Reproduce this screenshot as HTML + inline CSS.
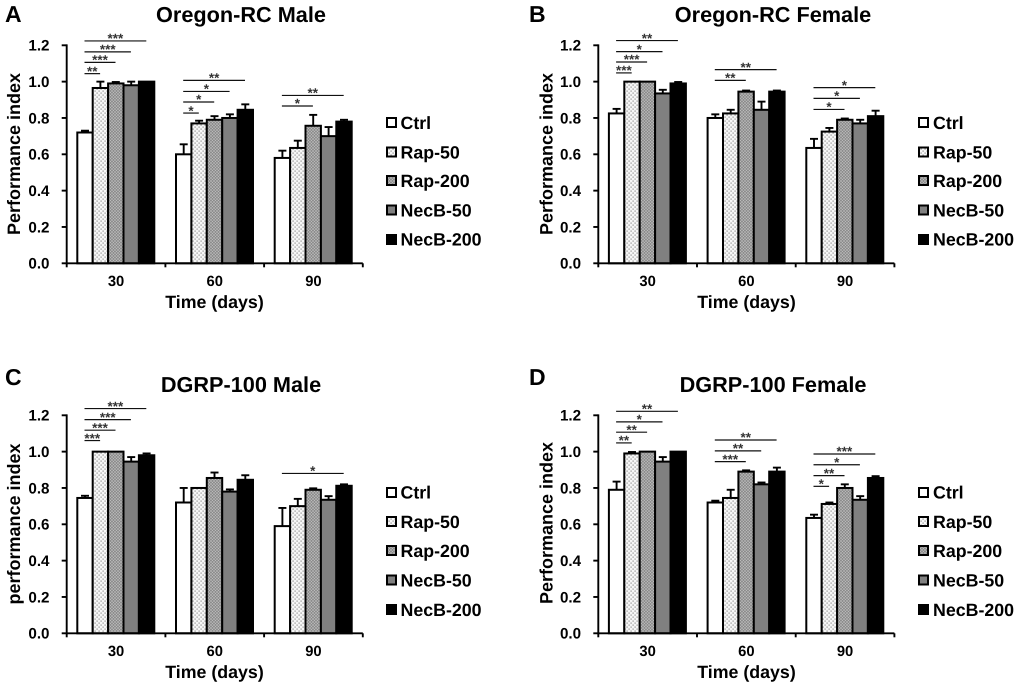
<!DOCTYPE html>
<html lang="en">
<head>
<meta charset="utf-8">
<title>Performance index by treatment and age</title>
<style>
html,body{margin:0;padding:0;background:#fff;}
svg{display:block;filter:blur(0.35px);}
text{font-family:"Liberation Sans",Arial,sans-serif;font-weight:bold;fill:#000;text-rendering:geometricPrecision;}
.letter{font-size:23px;}
.title{font-size:21.7px;text-anchor:middle;}
.axt{font-size:17.8px;text-anchor:middle;}
.ylab{font-size:18px;text-anchor:middle;}
.leg{font-size:17.8px;}
.sw{stroke:#000;stroke-width:2;}
</style>
</head>
<body>
<svg id="figure" xmlns="http://www.w3.org/2000/svg" width="1020" height="691" viewBox="0 0 1020 691">
<defs>
<pattern id="rap50" patternUnits="userSpaceOnUse" width="4" height="4">
<rect width="4" height="4" fill="#f6f6f6"/>
<rect x="0.5" y="0.5" width="1.2" height="1.2" fill="#8a8a8a"/>
<rect x="2.5" y="2.5" width="1.2" height="1.2" fill="#8a8a8a"/>
</pattern>
<pattern id="rap200" patternUnits="userSpaceOnUse" width="3" height="3">
<rect width="3" height="3" fill="#8c8c8c"/>
<rect x="0.4" y="0.4" width="1.2" height="1.2" fill="#d6d6d6"/>
<rect x="1.9" y="1.9" width="1" height="1" fill="#c8c8c8"/>
</pattern>
</defs>
<rect width="1020" height="691" fill="#fff"/>

<g id="panel-a">
<text class="letter" x="5" y="22">A</text>
<text class="title" x="241" y="22">Oregon-RC Male</text>
<text class="ylab" transform="translate(20,154) rotate(-90)">Performance index</text>
<text class="axt" x="214.5" y="308">Time (days)</text>
<g>
<rect class="sw" x="387" y="118" width="9" height="9" fill="#fff"/>
<text class="leg" x="400.5" y="129">Ctrl</text>
<rect class="sw" x="387" y="147.5" width="9" height="9" fill="url(#rap50)"/>
<text class="leg" x="400.5" y="158.5">Rap-50</text>
<rect class="sw" x="387" y="176" width="9" height="9" fill="url(#rap200)"/>
<text class="leg" x="400.5" y="187">Rap-200</text>
<rect class="sw" x="387" y="205.5" width="9" height="9" fill="#808080"/>
<text class="leg" x="400.5" y="216.5">NecB-50</text>
<rect class="sw" x="387" y="235" width="9" height="9" fill="#000"/>
<text class="leg" x="400.5" y="245.5">NecB-200</text>
</g>
</g>

<g id="panel-b">
<text class="letter" x="529" y="22">B</text>
<text class="title" x="773" y="22">Oregon-RC Female</text>
<text class="ylab" transform="translate(552.7,154) rotate(-90)">Performance index</text>
<text class="axt" x="746.5" y="308">Time (days)</text>
<g>
<rect class="sw" x="919" y="118" width="9" height="9" fill="#fff"/>
<text class="leg" x="933" y="129">Ctrl</text>
<rect class="sw" x="919" y="147.5" width="9" height="9" fill="url(#rap50)"/>
<text class="leg" x="933" y="158.5">Rap-50</text>
<rect class="sw" x="919" y="176" width="9" height="9" fill="url(#rap200)"/>
<text class="leg" x="933" y="187">Rap-200</text>
<rect class="sw" x="919" y="205.5" width="9" height="9" fill="#808080"/>
<text class="leg" x="933" y="216.5">NecB-50</text>
<rect class="sw" x="919" y="235" width="9" height="9" fill="#000"/>
<text class="leg" x="933" y="245.5">NecB-200</text>
</g>
</g>

<g id="panel-c">
<text class="letter" x="5" y="385">C</text>
<text class="title" x="241" y="392">DGRP-100 Male</text>
<text class="ylab" transform="translate(20,524) rotate(-90)">performance index</text>
<text class="axt" x="214.5" y="678">Time (days)</text>
<g>
<rect class="sw" x="387" y="488" width="9" height="9" fill="#fff"/>
<text class="leg" x="400.5" y="498.5">Ctrl</text>
<rect class="sw" x="387" y="517" width="9" height="9" fill="url(#rap50)"/>
<text class="leg" x="400.5" y="528">Rap-50</text>
<rect class="sw" x="387" y="546" width="9" height="9" fill="url(#rap200)"/>
<text class="leg" x="400.5" y="557">Rap-200</text>
<rect class="sw" x="387" y="575.5" width="9" height="9" fill="#808080"/>
<text class="leg" x="400.5" y="586.5">NecB-50</text>
<rect class="sw" x="387" y="605" width="9" height="9" fill="#000"/>
<text class="leg" x="400.5" y="616">NecB-200</text>
</g>
</g>

<g id="panel-d">
<text class="letter" x="529" y="385">D</text>
<text class="title" x="773" y="392">DGRP-100 Female</text>
<text class="ylab" transform="translate(552.7,523) rotate(-90)">Performance index</text>
<text class="axt" x="746.5" y="678">Time (days)</text>
<g>
<rect class="sw" x="919" y="488" width="9" height="9" fill="#fff"/>
<text class="leg" x="933" y="498.5">Ctrl</text>
<rect class="sw" x="919" y="517" width="9" height="9" fill="url(#rap50)"/>
<text class="leg" x="933" y="528">Rap-50</text>
<rect class="sw" x="919" y="546" width="9" height="9" fill="url(#rap200)"/>
<text class="leg" x="933" y="557">Rap-200</text>
<rect class="sw" x="919" y="575.5" width="9" height="9" fill="#808080"/>
<text class="leg" x="933" y="586.5">NecB-50</text>
<rect class="sw" x="919" y="605" width="9" height="9" fill="#000"/>
<text class="leg" x="933" y="616">NecB-200</text>
</g>
</g>
</svg>

<script>
// ---- shared categories and tick labels ----
const categories = ['30', '60', '90'];
const seriesKeys = ['ctrl', 'rap-50', 'rap-200', 'necb-50', 'necb-200'];
const yTicks = [0, 0.2, 0.4, 0.6, 0.8, 1.0, 1.2];

// ---- values: one row per day, one column per series ----
const valuesA = [[0.72, 0.965, 0.99, 0.98, 1.0], [0.60, 0.77, 0.79, 0.80, 0.845], [0.58, 0.635, 0.757, 0.70, 0.78]];
const errorsA = [[0.01, 0.035, 0.008, 0.02, 0], [0.055, 0.015, 0.02, 0.02, 0.03], [0.04, 0.04, 0.06, 0.05, 0.01]];
const valuesB = [[0.825, 1.0, 1.0, 0.935, 0.99], [0.80, 0.825, 0.945, 0.845, 0.945], [0.635, 0.725, 0.79, 0.77, 0.81]];
const errorsB = [[0.025, 0, 0, 0.02, 0.008], [0.02, 0.02, 0.006, 0.045, 0.006], [0.05, 0.02, 0.007, 0.02, 0.03]];
const valuesC = [[0.745, 1.0, 1.0, 0.945, 0.98], [0.72, 0.80, 0.855, 0.78, 0.845], [0.59, 0.70, 0.79, 0.735, 0.812]];
const errorsC = [[0.012, 0, 0, 0.025, 0.01], [0.08, 0, 0.03, 0.012, 0.025], [0.10, 0.04, 0.008, 0.02, 0.008]];
const valuesD = [[0.79, 0.99, 1.0, 0.945, 1.0], [0.72, 0.745, 0.89, 0.82, 0.89], [0.635, 0.712, 0.80, 0.735, 0.855]];
const errorsD = [[0.045, 0.008, 0, 0.025, 0], [0.01, 0.045, 0.007, 0.01, 0.022], [0.018, 0.008, 0.02, 0.02, 0.01]];

// ---- significance: [day index, compared series index, bracket level in y units, stars] ----
const sigA = [[0, 1, 1.044, '**'], [0, 2, 1.106, '***'], [0, 3, 1.164, '***'], [0, 4, 1.224, '***'],
  [1, 1, 0.827, '*'], [1, 2, 0.888, '*'], [1, 3, 0.946, '*'], [1, 4, 1.007, '**'],
  [2, 2, 0.866, '*'], [2, 4, 0.924, '**']];
const sigB = [[0, 1, 1.048, '***'], [0, 2, 1.108, '***'], [0, 3, 1.165, '*'], [0, 4, 1.226, '**'],
  [1, 2, 1.007, '**'], [1, 4, 1.066, '**'],
  [2, 2, 0.847, '*'], [2, 3, 0.908, '*'], [2, 4, 0.967, '*']];
const sigC = [[0, 1, 1.061, '***'], [0, 2, 1.118, '***'], [0, 3, 1.176, '***'], [0, 4, 1.237, '***'],
  [2, 4, 0.88, '*']];
const sigD = [[0, 1, 1.048, '**'], [0, 2, 1.107, '**'], [0, 3, 1.164, '*'], [0, 4, 1.222, '**'],
  [1, 2, 0.945, '***'], [1, 3, 1.004, '**'], [1, 4, 1.064, '**'],
  [2, 1, 0.809, '*'], [2, 2, 0.868, '**'], [2, 3, 0.928, '*'], [2, 4, 0.987, '***']];

const NS = 'http://www.w3.org/2000/svg';
const fills = ['#fff', 'url(#rap50)', 'url(#rap200)', '#808080', '#000'];

function make(parent, tag, attrs, txt) {
  const n = document.createElementNS(NS, tag);
  for (const k in attrs) n.setAttribute(k, attrs[k]);
  if (txt !== undefined) n.textContent = txt;
  parent.appendChild(n);
  return n;
}

function drawPanel(id, left, bottom, values, errors, sig) {
  const root = document.getElementById('panel-' + id);
  const plotH = 218, catW = 98.7, barW = 15.4, pad = 10.6;
  const yScale = v => bottom - v / 1.2 * plotH;
  const xBar = (g, s) => left + g * catW + pad + s * barW;
  const lineStyle = { stroke: '#000', 'stroke-width': 1.9, fill: 'none' };

  // bars and error bars
  values.forEach((row, g) => {
    row.forEach((v, s) => {
      const x = xBar(g, s);
      const err = errors[g][s];
      if (err > 0) {
        const cx = x + barW / 2;
        const ey = yScale(v + err);
        const stem = make(root, 'line', Object.assign({ x1: cx, x2: cx, y1: yScale(v), y2: ey }, lineStyle));
        
        
        const cap = make(root, 'line', Object.assign({ x1: cx - 4, x2: cx + 4, y1: ey, y2: ey }, lineStyle));
        
        
      }
      const bar = make(root, 'rect', {
        x: x, y: yScale(v), width: barW, height: bottom - yScale(v),
        fill: fills[s], stroke: '#000', 'stroke-width': 2
      });
      
      
    });
  });

  // y axis
  const yAxis = make(root, 'line', Object.assign({ x1: left, x2: left, y1: yScale(1.2) - 0.9, y2: bottom + 0.9 }, lineStyle));
  
  
  yTicks.forEach(t => {
    const y = yScale(t);
    const tick = make(root, 'line', Object.assign({ x1: left - 5, x2: left, y1: y, y2: y }, lineStyle));
    
    
    const label = make(root, 'text', { x: left - 17.2, y: y + 5.4, 'text-anchor': 'end', 'font-size': 15.2 }, t.toFixed(1));
    
    
  });

  // x axis
  const xAxis = make(root, 'line', Object.assign({ x1: left, x2: left + catW * categories.length, y1: bottom, y2: bottom }, lineStyle));
  
  
  for (let i = 0; i <= categories.length; i++) {
    const x = left + i * catW;
    const tick = make(root, 'line', Object.assign({ x1: x, x2: x, y1: bottom, y2: bottom + 4 }, lineStyle));
    
    
  }
  categories.forEach((c, i) => {
    const label = make(root, 'text', { x: left + (i + 0.5) * catW, y: bottom + 22.7, 'text-anchor': 'middle', 'font-size': 14.8 }, c);
    
    
  });

  // significance brackets
  sig.forEach(item => {
    const g = item[0], s = item[1], y = yScale(item[2]);
    const x1 = xBar(g, 0) + barW / 2 - 0.5;
    const x2 = xBar(g, s) + barW / 2 - 0.3;
    const bracket = make(root, 'line', { x1: x1, x2: x2, y1: y, y2: y, stroke: '#111', 'stroke-width': 1.2 });
    
    
    const stars = make(root, 'text', { x: (x1 + x2) / 2, y: y + 2.2, 'text-anchor': 'middle', 'font-size': 13.5, style: 'fill:#333' }, item[3]);
    
    
  });
}

drawPanel('a', 66.7, 263.3, valuesA, errorsA, sigA);
drawPanel('b', 598.3, 263.3, valuesB, errorsB, sigB);
drawPanel('c', 66.7, 633.3, valuesC, errorsC, sigC);
drawPanel('d', 598.3, 633.3, valuesD, errorsD, sigD);
</script>
</body>
</html>
